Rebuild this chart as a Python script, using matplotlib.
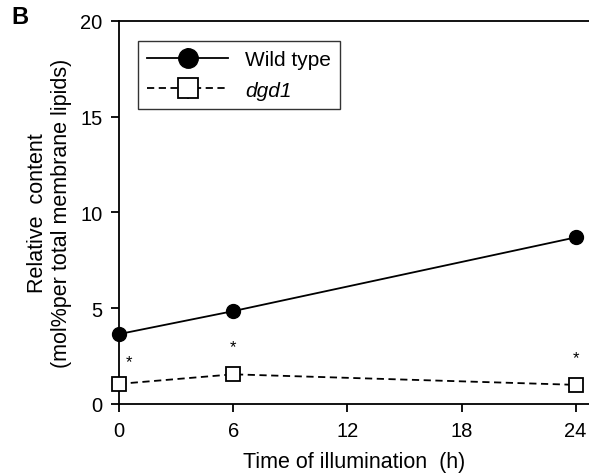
import matplotlib
matplotlib.use("Agg")
import matplotlib.pyplot as plt

plt.rcParams['font.family'] = ['Liberation Sans', 'DejaVu Sans']

hours = [0, 6, 24]
wild_type = [3.65, 4.85, 8.7]
wild_type_err = [0.1, 0.1, 0.35]
dgd1 = [1.05, 1.55, 1.0]
dgd1_err = [0.05, 0.05, 0.05]
star_y = [2.2, 3.0, 2.4]
star_x = [0.5, 6, 24]

fig = plt.figure(figsize=(5.89, 4.77), dpi=100)
ax = fig.add_axes([119 / 589, 1 - 405 / 477, 1 - 119 / 589, (405 - 22) / 477])

ax.errorbar(hours, wild_type, yerr=wild_type_err, color='black', marker='o',
            markersize=10, linewidth=1.3, capsize=0, clip_on=False, zorder=3,
            label='Wild type')
ax.errorbar(hours, dgd1, yerr=dgd1_err, color='black', marker='s',
            markersize=10, markerfacecolor='white', markeredgewidth=1.3,
            linestyle='--', dashes=(4, 2.5), linewidth=1.3, capsize=0,
            clip_on=False, zorder=3, label='dgd1')

for x, y in zip(star_x, star_y):
    ax.text(x, y, '*', ha='center', va='center', fontsize=12)

ax.set_xlim(0, 24.7)
ax.set_ylim(0, 20)
ax.set_xticks([0, 6, 12, 18, 24])
ax.set_yticks([0, 5, 10, 15, 20])
ax.tick_params(direction='out', length=6, width=1.3, labelsize=14.5, pad=6)
for side in ['left', 'bottom', 'top']:
    ax.spines[side].set_linewidth(1.3)
ax.spines['right'].set_visible(False)
ax.tick_params(top=False)

ax.set_xlabel('Time of illumination  (h)', fontsize=15.5, labelpad=8)
ax.set_ylabel('Relative  content\n(mol%per total membrane lipids)', fontsize=15.5,
              labelpad=6, linespacing=1.15)

leg = ax.legend(loc='upper left', bbox_to_anchor=(0.04, 0.948), fontsize=15,
                frameon=True, fancybox=False, edgecolor='black',
                handlelength=3.9, handletextpad=0.8, borderpad=0.45,
                labelspacing=0.55, markerscale=1.4, borderaxespad=0)
leg.get_frame().set_linewidth(1.0)
leg.get_texts()[1].set_style('italic')

fig.text(20 / 589, 1 - 18 / 477, 'B', fontsize=17, fontweight='bold',
         va='center', ha='center')

fig.savefig('out.png', dpi=100)
